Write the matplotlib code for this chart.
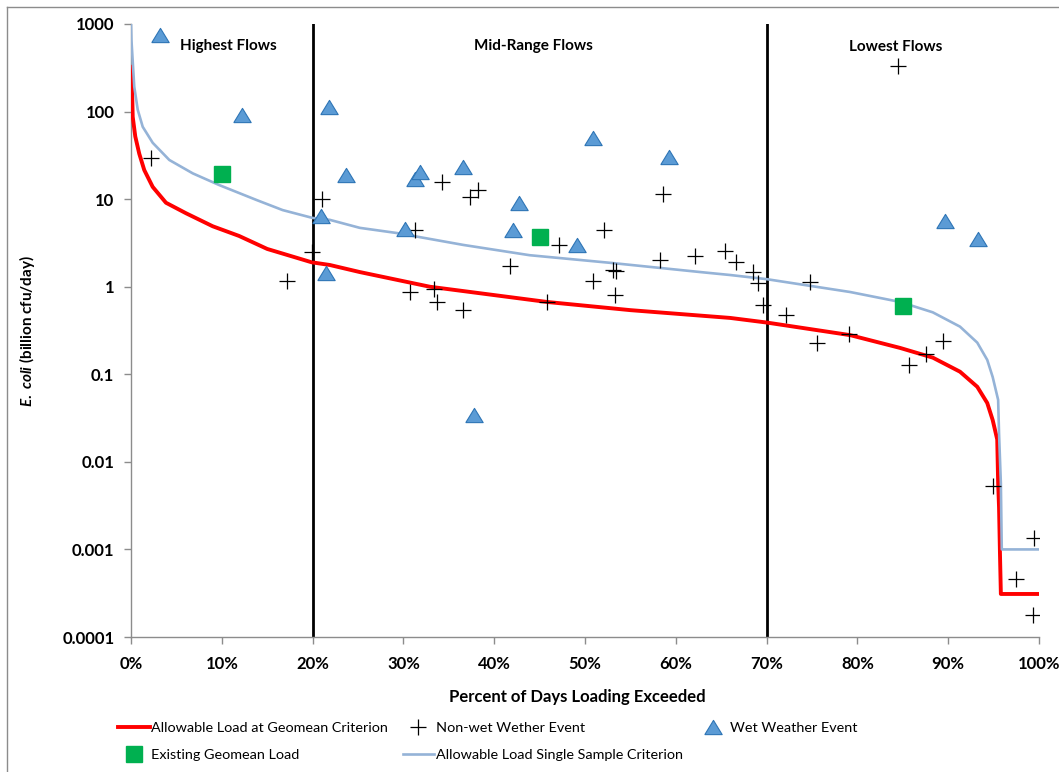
"""Load duration curve for E. coli with observed loads by flow regime."""

import matplotlib
matplotlib.use("Agg")
import matplotlib.pyplot as plt
from matplotlib.lines import Line2D
from matplotlib.ticker import FixedLocator, FixedFormatter, NullLocator, PercentFormatter

plt.rcParams["font.family"] = ["Lato", "DejaVu Sans"]
plt.rcParams["mathtext.fontset"] = "custom"
plt.rcParams["mathtext.it"] = "Lato:italic:bold"
plt.rcParams["mathtext.rm"] = "Lato:bold"

# ---------------------------------------------------------------------------
# Data (percent of days loading exceeded, billion cfu/day)
# ---------------------------------------------------------------------------

geomean_pct = [0.0, 0.08, 0.11, 0.19, 0.47, 0.91, 1.46, 2.39, 3.85, 6.06, 9.0,
               11.9, 15.0, 19.9, 21.9, 25.2, 32.9, 45.8, 55.0, 66.0, 70.0,
               79.2, 84.7, 88.3, 91.3, 93.2, 94.3, 94.9, 95.4, 95.5, 95.6,
               95.7, 95.8, 100.0]
geomean_load = [325, 325, 192, 87, 52, 33, 21.5, 13.8, 9.1, 6.9, 4.9,
                3.8, 2.7, 1.9, 1.77, 1.47, 1.0, 0.67, 0.54, 0.44, 0.39,
                0.28, 0.20, 0.155, 0.107, 0.072, 0.047, 0.030, 0.018, 0.0058,
                0.003, 0.00091, 0.00031, 0.00031]

single_pct = [0.0, 0.05, 0.36, 0.74, 1.29, 2.39, 4.22, 6.8, 9.7, 13.8, 16.7,
              20.0, 21.9, 25.2, 29.3, 36.6, 43.9, 53.1, 62.7, 66.0, 70.0,
              79.2, 84.7, 88.3, 91.3, 93.2, 94.3, 94.9, 95.5, 95.6, 95.8,
              95.9, 100.0]
single_load = [1000, 650, 192, 105, 67, 44, 28, 19.7, 14.5, 9.8, 7.5,
               6.1, 5.8, 4.7, 4.1, 3.0, 2.29, 1.86, 1.47, 1.36, 1.22,
               0.87, 0.67, 0.51, 0.35, 0.23, 0.146, 0.093, 0.051, 0.021, 0.0057,
               0.001, 0.001]

dry_pct = [2.2, 17.2, 21.0, 19.9, 34.2, 37.3, 38.2, 31.3, 52.1, 58.6, 47.1,
           41.7, 58.3, 62.1, 65.4, 50.9, 53.1, 53.4, 53.3, 30.7, 33.4, 33.7,
           36.6, 45.8, 84.5, 66.6, 68.5, 69.1, 74.8, 69.6, 72.1, 75.6, 79.1,
           85.7, 87.6, 89.4, 94.9, 99.4, 97.5, 99.3]
dry_load = [29.5, 1.16, 10.0, 2.49, 15.7, 10.6, 12.7, 4.45, 4.45, 11.5, 3.0,
            1.72, 2.02, 2.24, 2.55, 1.16, 1.55, 1.50, 0.80, 0.87, 0.93, 0.67,
            0.54, 0.67, 331, 1.92, 1.47, 1.10, 1.13, 0.62, 0.475, 0.228, 0.288,
            0.128, 0.171, 0.24, 0.0053, 0.00135, 0.00046, 0.000178]

wet_pct = [3.2, 12.2, 21.8, 23.7, 20.9, 21.5, 30.2, 31.3, 31.8, 36.6, 42.7,
           42.1, 50.9, 49.1, 59.3, 37.8, 89.6, 93.3]
wet_load = [748, 91, 113, 18.9, 6.4, 1.44, 4.56, 17, 20.4, 23.3, 9.0,
            4.44, 49.9, 2.99, 30.3, 0.0343, 5.6, 3.5]

existing_pct = [10, 45, 85]
existing_load = [19.5, 3.7, 0.60]

regime_breaks = [20, 70]
regime_names = ["Highest Flows", "Mid-Range Flows", "Lowest Flows"]
regime_label_x = [10.7, 44.3, 84.2]
regime_label_y = [560, 560, 540]

ytick_vals = [0.0001, 0.001, 0.01, 0.1, 1, 10, 100, 1000]
ytick_text = ["0.0001", "0.001", "0.01", "0.1", "1", "10", "100", "1000"]

# ---------------------------------------------------------------------------
# Plot
# ---------------------------------------------------------------------------

W, H = 1059, 772
fig = plt.figure(figsize=(W / 100, H / 100), dpi=100)
ax = fig.add_axes([131 / W, 1 - 637 / H, 908 / W, 613 / H])

# outer chart frame (only top/left visible in the reference)
fig.add_artist(Line2D([7 / W, 7 / W], [0, 1 - 7 / H], transform=fig.transFigure,
                      color="#8c8c8c", lw=1.0))
fig.add_artist(Line2D([7 / W, 1], [1 - 7 / H, 1 - 7 / H], transform=fig.transFigure,
                      color="#8c8c8c", lw=1.0))

for xb in regime_breaks:
    ax.axvline(xb, color="black", lw=2.0, zorder=2)

ax.plot(geomean_pct, geomean_load, color="#FF0000", lw=2.8, zorder=3,
        label="Allowable Load at Geomean Criterion")
ax.plot(dry_pct, dry_load, ls="none", marker="+", ms=11, mew=0.9,
        color="black", zorder=5, label="Non-wet Wether Event")
tri = [(-1, -0.82), (1, -0.82), (0, 0.82), (-1, -0.82)]
ax.plot(wet_pct, wet_load, ls="none", marker=tri, ms=12.5, mfc="#5B9BD5",
        mec="#2E75B6", mew=0.8, zorder=6, label="Wet Weather Event")
ax.plot(existing_pct, existing_load, ls="none", marker="s", ms=11.5,
        color="#00B050", zorder=6, label="Existing Geomean Load")
ax.plot(single_pct, single_load, color="#95B3D7", lw=1.9, zorder=4,
        label="Allowable Load Single Sample Criterion")

for name, lx, ly in zip(regime_names, regime_label_x, regime_label_y):
    ax.text(lx, ly, name, ha="center", va="center", fontsize=11,
            fontweight="bold", zorder=7)

ax.set_yscale("log")
ax.set_xlim(0, 100)
ax.set_ylim(0.0001, 1000)
ax.yaxis.set_major_locator(FixedLocator(ytick_vals))
ax.yaxis.set_major_formatter(FixedFormatter(ytick_text))
ax.yaxis.set_minor_locator(NullLocator())
ax.set_xticks(range(0, 101, 10))
ax.xaxis.set_major_formatter(PercentFormatter(100, decimals=0))

for side in ("top", "right"):
    ax.spines[side].set_visible(False)
for side in ("left", "bottom"):
    ax.spines[side].set_color("#8c8c8c")
    ax.spines[side].set_linewidth(1.0)

ax.tick_params(axis="both", direction="out", length=5, width=1, color="#8c8c8c",
               labelsize=12)
ax.tick_params(axis="y", pad=7)
ax.tick_params(axis="x", pad=9)
for lbl in ax.get_xticklabels() + ax.get_yticklabels():
    lbl.set_fontweight("bold")

ax.set_xlabel("Percent of Days Loading Exceeded", fontsize=12, fontweight="bold")
ax.xaxis.set_label_coords(0.491, -0.085)
ax.set_ylabel(r"$E.\ coli$ (billion cfu/day)", fontsize=11, fontweight="bold")
ax.yaxis.set_label_coords(-0.1035, 0.5)

h, l = ax.get_legend_handles_labels()
order = [0, 3, 1, 4, 2]
fig.legend([h[i] for i in order], [l[i] for i in order], ncol=3, frameon=False,
           loc="upper left", bbox_to_anchor=(118 / W, 1 - 722 / H),
           borderaxespad=0, borderpad=0, fontsize=10.4, handlelength=2.2,
           handletextpad=0.1, columnspacing=1.0, labelspacing=1.0)

fig.savefig("out.png", dpi=100)
